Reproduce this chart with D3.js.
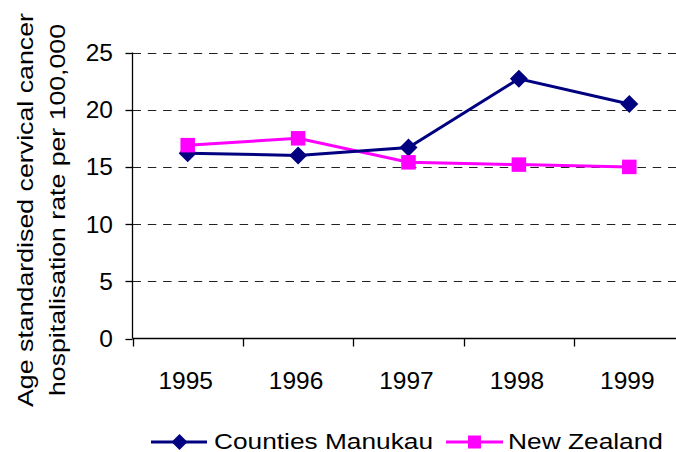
<!DOCTYPE html>
<html><head><meta charset="utf-8">
<script src="https://cdn.jsdelivr.net/npm/d3@7/dist/d3.min.js"></script>
<style>html,body{margin:0;padding:0;background:#fff;overflow:hidden}</style>
</head><body>
<svg id="c" width="676" height="452"></svg>
<script>
const years = ["1995","1996","1997","1998","1999"];
const countiesManukau = [16.2, 16.0, 16.7, 22.7, 20.5];
const newZealand = [16.9, 17.5, 15.4, 15.2, 15.0];
const yTicks = [0, 5, 10, 15, 20, 25];
const seriesNames = ["Counties Manukau", "New Zealand"];
const titleLines = ["Age standardised cervical cancer", "hospitalisation rate per 100,000"];

(function () {
const svg = d3.select("#c");
const font = "'Liberation Sans', Arial, sans-serif";
const pLeft = 132.5, pBottom = 338.5, pTop = 52.5, pRight = 684.5;

const x = d3.scaleBand().domain(years).range([pLeft, pRight]).padding(0);
const y = d3.scaleLinear().domain([0, 25]).range([pBottom, pTop]);

// gridlines
svg.append("g").selectAll("line").data(yTicks.filter(d => d > 0)).join("line")
  .attr("x1", pLeft).attr("x2", pRight)
  .attr("y1", d => Math.round(y(d)) + 0.5).attr("y2", d => Math.round(y(d)) + 0.5)
  .attr("stroke", "#222").attr("stroke-width", 1.2).attr("stroke-dasharray", "8.5,6.8");

// y axis
const ya = svg.append("g");
ya.append("line").attr("x1", pLeft).attr("x2", pLeft).attr("y1", y(25)).attr("y2", pBottom)
  .attr("stroke", "#000").attr("stroke-width", 1.3);
ya.selectAll("line.t").data(yTicks).join("line").attr("class", "t")
  .attr("x1", pLeft - 7).attr("x2", pLeft)
  .attr("y1", d => Math.round(y(d)) + 0.5).attr("y2", d => Math.round(y(d)) + 0.5)
  .attr("stroke", "#000").attr("stroke-width", 1.3);
ya.selectAll("text").data(yTicks).join("text")
  .attr("x", 113).attr("y", d => y(d) + 8.5)
  .attr("text-anchor", "end").attr("font-family", font).attr("font-size", 24.5)
  .text(d => d);

// x axis
const xa = svg.append("g");
xa.append("line").attr("x1", pLeft).attr("x2", pRight).attr("y1", pBottom).attr("y2", pBottom)
  .attr("stroke", "#000").attr("stroke-width", 1.3);
const bounds = years.map(d => x(d)).concat([x(years[years.length - 1]) + x.bandwidth()]);
xa.selectAll("line.t").data(bounds).join("line").attr("class", "t")
  .attr("x1", d => Math.round(d) + 0.5).attr("x2", d => Math.round(d) + 0.5)
  .attr("y1", pBottom).attr("y2", pBottom + 8)
  .attr("stroke", "#000").attr("stroke-width", 1.3);
xa.selectAll("text").data(years).join("text")
  .attr("x", d => x(d) + x.bandwidth() / 2 - 2).attr("y", 389)
  .attr("text-anchor", "middle").attr("font-family", font).attr("font-size", 24.5)
  .text(d => d);

// y title
const tt = svg.append("g").attr("transform", "translate(0,210) rotate(-90)");
tt.append("text").attr("x", 0).attr("y", 33).attr("text-anchor", "middle")
  .attr("font-family", font).attr("font-size", 22)
  .attr("textLength", 394).attr("lengthAdjust", "spacingAndGlyphs").text(titleLines[0]);
tt.append("text").attr("x", 0).attr("y", 65).attr("text-anchor", "middle")
  .attr("font-family", font).attr("font-size", 22)
  .attr("textLength", 372).attr("lengthAdjust", "spacingAndGlyphs").text(titleLines[1]);

const cx = d => x(d) + x.bandwidth() / 2;

// series lines
const line = d3.line().x((d, i) => cx(years[i])).y(d => y(d));
svg.append("path").datum(newZealand).attr("d", line)
  .attr("fill", "none").attr("stroke", "#FF00FF").attr("stroke-width", 3);
svg.append("path").datum(countiesManukau).attr("d", line)
  .attr("fill", "none").attr("stroke", "#000080").attr("stroke-width", 3);

// markers
function drawDiamond(g, px, py, r) {
  g.append("path").attr("d", `M${px},${py - r}L${px + r},${py}L${px},${py + r}L${px - r},${py}Z`)
    .attr("fill", "#000080");
}
function drawSquare(g, px, py, s) {
  g.append("rect").attr("x", px - s / 2).attr("y", py - s / 2).attr("width", s).attr("height", s)
    .attr("fill", "#FF00FF");
}
const mk = svg.append("g");
countiesManukau.forEach((v, i) => drawDiamond(mk, cx(years[i]), y(v), 9));
newZealand.forEach((v, i) => drawSquare(mk, cx(years[i]), y(v), 14.5));

// legend
const lg = svg.append("g");
const ly = 442;
lg.append("line").attr("x1", 151).attr("x2", 207).attr("y1", ly).attr("y2", ly)
  .attr("stroke", "#000080").attr("stroke-width", 3);
drawDiamond(lg, 179.5, ly, 8);
lg.append("text").attr("x", 214).attr("y", 448.5).attr("font-family", font).attr("font-size", 22.5)
  .attr("textLength", 219).attr("lengthAdjust", "spacingAndGlyphs").text(seriesNames[0]);
lg.append("line").attr("x1", 446).attr("x2", 503).attr("y1", ly).attr("y2", ly)
  .attr("stroke", "#FF00FF").attr("stroke-width", 3);
drawSquare(lg, 474.5, ly, 13);
lg.append("text").attr("x", 508).attr("y", 448.5).attr("font-family", font).attr("font-size", 22.5)
  .attr("textLength", 155).attr("lengthAdjust", "spacingAndGlyphs").text(seriesNames[1]);
})();
</script>
</body></html>
